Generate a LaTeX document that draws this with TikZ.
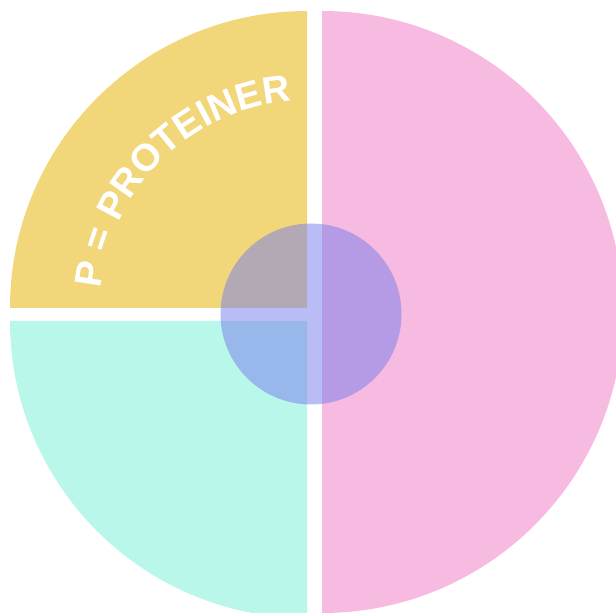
\documentclass[tikz,border=0pt]{standalone}
\usepackage{fontspec}
\setmainfont{Liberation Sans}
\usetikzlibrary{decorations.text}
\definecolor{proteinyellow}{HTML}{F2D77A}
\definecolor{vegmint}{HTML}{BAF7EB}
\definecolor{carbpink}{HTML}{F7BAE0}
\definecolor{centerblue}{HTML}{7A80EC}
\begin{document}
\begin{tikzpicture}[x=1pt, y=1pt]
  \useasboundingbox (0,0) rectangle (616,613);
  \clip (0,0) rectangle (616,613);

  % Quarters and half
  \fill[proteinyellow] (307,305) -- (307,602) arc[start angle=90, end angle=180, radius=297] -- cycle;
  \fill[vegmint] (307,292) -- (10,292) arc[start angle=180, end angle=270, radius=297] -- cycle;
  \fill[carbpink] (322,301) -- (322,602) arc[start angle=90, end angle=-90, radius=301] -- cycle;

  % Center disc
  \fill[centerblue, opacity=0.52] (311,299) circle (90.5);

  % Curved label
  \path[decorate, decoration={text along path, text align=center, text color=white,
        text={|\fontsize{38}{38}\selectfont\bfseries|P = PROTEINER}}]
    (307,305) ++(175:207) arc[start angle=175, end angle=94, radius=207];
\end{tikzpicture}
\end{document}
